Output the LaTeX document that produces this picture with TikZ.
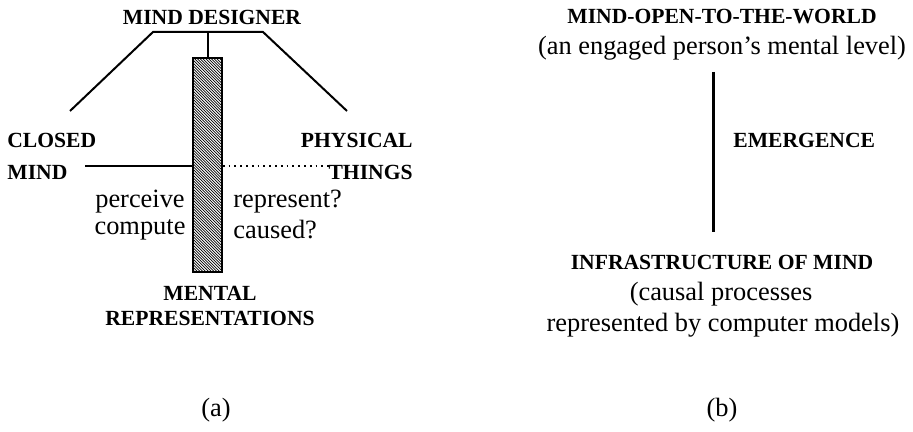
\documentclass[tikz,border=0pt]{standalone}
\usepackage{fontspec}
\setmainfont{Liberation Serif}
\usetikzlibrary{positioning}
\tikzstyle{head} = [font=\fontsize{10.8}{12}\selectfont\bfseries, inner sep=0pt]
\tikzstyle{txt} = [font=\fontsize{13.2}{15}\selectfont, inner sep=0pt]
\tikzstyle{bar} = [line width=1pt]
\tikzstyle{hatchbox} = [draw, line width=.8pt, minimum width=14.5pt, minimum height=107pt, inner sep=0pt]

\begin{document}
\begin{tikzpicture}[x=0.5pt,y=-0.5pt]
\useasboundingbox (0,0) rectangle (913,432);

% (a)
\node[head] (designer) at (212,17) {MIND DESIGNER};
\node[head, anchor=west] (closed) at (7,140) {CLOSED};
\node[head, anchor=west] (mind) at (7,172) {MIND};
\node[head, anchor=east] (physical) at (413,140) {PHYSICAL};
\node[head, anchor=east] (things) at (413,172) {THINGS};
\node[hatchbox, path picture={
  \foreach \k in {0,...,95}
    \draw[line width=.35pt] ([yshift=20pt-\k*1.4pt]path picture bounding box.north west) -- ++(22pt,-22pt);
}] (rep) at (207.5,165) {};
\node[txt] (perceive) at (140,202) {perceive};
\node[txt] (compute) at (140,230) {compute};
\node[txt, anchor=west] (represent) at (233,202) {represent?};
\node[txt, anchor=west] (caused) at (233,230) {caused?};
\node[head] (mental) at (210,293) {MENTAL};
\node[head, below=5pt of mental] (reps) {REPRESENTATIONS};
\node[txt] (capa) at (216,410) {(a)};

\coordinate (tl) at (153,32);
\coordinate (tr) at (263,32);
\coordinate (ll) at (70,111);
\coordinate (rr) at (347,111);
\coordinate (cl) at (85,166);
\coordinate (cr) at (333,166);

\draw[bar] (ll) -- (tl) -- (tr) -- (rr);
\draw[bar] (rep.north) -- (rep.north |- tl);
\draw[bar] (cl) -- (rep.west |- cl);
\draw[line width=.9pt, dotted] (rep.east |- cr) -- (cr);

% (b)
\node[head] (world) at (722,17) {MIND-OPEN-TO-THE-WORLD};
\node[txt] (engaged) at (722,48) {(an engaged person’s mental level)};
\node[head, anchor=west] (emergence) at (733,140) {EMERGENCE};
\node[head] (infra) at (722,262) {INFRASTRUCTURE OF MIND};
\node[txt] (causal) at (721,294) {(causal processes};
\node[txt] (models) at (723,325) {represented by computer models)};
\node[txt] (capb) at (722,410) {(b)};

\coordinate (et) at (713,72);
\coordinate (eb) at (713,232);
\draw[line width=1.5pt] (et) -- (eb);
\end{tikzpicture}
\end{document}
